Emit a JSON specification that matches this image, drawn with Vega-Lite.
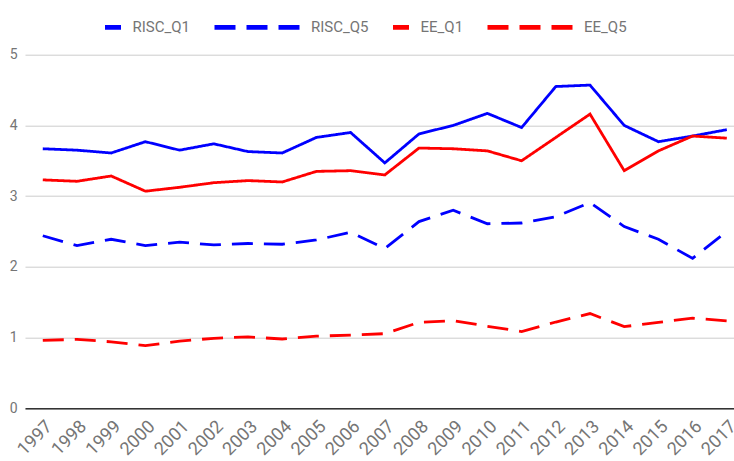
{
  "$schema": "https://vega.github.io/schema/vega-lite/v6.json",
  "autosize": {"type": "none"},
  "width": 709,
  "height": 353.6,
  "padding": {"left": 25, "top": 54.7, "right": 0, "bottom": 52.7},
  "config": {
    "font": "Roboto",
    "view": {"stroke": null},
    "axis": {"labelFont": "Roboto", "labelColor": "#757575"}
  },
  "data": {
    "values": [
      {"year": 1997, "series": "RISC_Q1", "value": 3.67},
      {"year": 1998, "series": "RISC_Q1", "value": 3.65},
      {"year": 1999, "series": "RISC_Q1", "value": 3.61},
      {"year": 2000, "series": "RISC_Q1", "value": 3.77},
      {"year": 2001, "series": "RISC_Q1", "value": 3.65},
      {"year": 2002, "series": "RISC_Q1", "value": 3.74},
      {"year": 2003, "series": "RISC_Q1", "value": 3.63},
      {"year": 2004, "series": "RISC_Q1", "value": 3.61},
      {"year": 2005, "series": "RISC_Q1", "value": 3.83},
      {"year": 2006, "series": "RISC_Q1", "value": 3.9},
      {"year": 2007, "series": "RISC_Q1", "value": 3.47},
      {"year": 2008, "series": "RISC_Q1", "value": 3.88},
      {"year": 2009, "series": "RISC_Q1", "value": 4.0},
      {"year": 2010, "series": "RISC_Q1", "value": 4.17},
      {"year": 2011, "series": "RISC_Q1", "value": 3.97},
      {"year": 2012, "series": "RISC_Q1", "value": 4.55},
      {"year": 2013, "series": "RISC_Q1", "value": 4.57},
      {"year": 2014, "series": "RISC_Q1", "value": 4.0},
      {"year": 2015, "series": "RISC_Q1", "value": 3.77},
      {"year": 2016, "series": "RISC_Q1", "value": 3.85},
      {"year": 2017, "series": "RISC_Q1", "value": 3.94},
      {"year": 1997, "series": "RISC_Q5", "value": 2.44},
      {"year": 1998, "series": "RISC_Q5", "value": 2.3},
      {"year": 1999, "series": "RISC_Q5", "value": 2.39},
      {"year": 2000, "series": "RISC_Q5", "value": 2.3},
      {"year": 2001, "series": "RISC_Q5", "value": 2.35},
      {"year": 2002, "series": "RISC_Q5", "value": 2.31},
      {"year": 2003, "series": "RISC_Q5", "value": 2.33},
      {"year": 2004, "series": "RISC_Q5", "value": 2.32},
      {"year": 2005, "series": "RISC_Q5", "value": 2.38},
      {"year": 2006, "series": "RISC_Q5", "value": 2.49},
      {"year": 2007, "series": "RISC_Q5", "value": 2.26},
      {"year": 2008, "series": "RISC_Q5", "value": 2.64},
      {"year": 2009, "series": "RISC_Q5", "value": 2.8},
      {"year": 2010, "series": "RISC_Q5", "value": 2.61},
      {"year": 2011, "series": "RISC_Q5", "value": 2.62},
      {"year": 2012, "series": "RISC_Q5", "value": 2.71},
      {"year": 2013, "series": "RISC_Q5", "value": 2.91},
      {"year": 2014, "series": "RISC_Q5", "value": 2.57},
      {"year": 2015, "series": "RISC_Q5", "value": 2.39},
      {"year": 2016, "series": "RISC_Q5", "value": 2.12},
      {"year": 2017, "series": "RISC_Q5", "value": 2.5},
      {"year": 1997, "series": "EE_Q1", "value": 3.23},
      {"year": 1998, "series": "EE_Q1", "value": 3.21},
      {"year": 1999, "series": "EE_Q1", "value": 3.285},
      {"year": 2000, "series": "EE_Q1", "value": 3.07},
      {"year": 2001, "series": "EE_Q1", "value": 3.125},
      {"year": 2002, "series": "EE_Q1", "value": 3.19},
      {"year": 2003, "series": "EE_Q1", "value": 3.22},
      {"year": 2004, "series": "EE_Q1", "value": 3.2},
      {"year": 2005, "series": "EE_Q1", "value": 3.35},
      {"year": 2006, "series": "EE_Q1", "value": 3.36},
      {"year": 2007, "series": "EE_Q1", "value": 3.3},
      {"year": 2008, "series": "EE_Q1", "value": 3.68},
      {"year": 2009, "series": "EE_Q1", "value": 3.67},
      {"year": 2010, "series": "EE_Q1", "value": 3.64},
      {"year": 2011, "series": "EE_Q1", "value": 3.5},
      {"year": 2012, "series": "EE_Q1", "value": 3.83},
      {"year": 2013, "series": "EE_Q1", "value": 4.16},
      {"year": 2014, "series": "EE_Q1", "value": 3.36},
      {"year": 2015, "series": "EE_Q1", "value": 3.64},
      {"year": 2016, "series": "EE_Q1", "value": 3.85},
      {"year": 2017, "series": "EE_Q1", "value": 3.82},
      {"year": 1997, "series": "EE_Q5", "value": 0.96},
      {"year": 1998, "series": "EE_Q5", "value": 0.975},
      {"year": 1999, "series": "EE_Q5", "value": 0.94},
      {"year": 2000, "series": "EE_Q5", "value": 0.885},
      {"year": 2001, "series": "EE_Q5", "value": 0.95},
      {"year": 2002, "series": "EE_Q5", "value": 0.99},
      {"year": 2003, "series": "EE_Q5", "value": 1.01},
      {"year": 2004, "series": "EE_Q5", "value": 0.98},
      {"year": 2005, "series": "EE_Q5", "value": 1.02},
      {"year": 2006, "series": "EE_Q5", "value": 1.035},
      {"year": 2007, "series": "EE_Q5", "value": 1.055},
      {"year": 2008, "series": "EE_Q5", "value": 1.215},
      {"year": 2009, "series": "EE_Q5", "value": 1.24},
      {"year": 2010, "series": "EE_Q5", "value": 1.16},
      {"year": 2011, "series": "EE_Q5", "value": 1.085},
      {"year": 2012, "series": "EE_Q5", "value": 1.22},
      {"year": 2013, "series": "EE_Q5", "value": 1.34},
      {"year": 2014, "series": "EE_Q5", "value": 1.155},
      {"year": 2015, "series": "EE_Q5", "value": 1.215},
      {"year": 2016, "series": "EE_Q5", "value": 1.275},
      {"year": 2017, "series": "EE_Q5", "value": 1.235}
    ]
  },
  "mark": {"type": "line", "strokeWidth": 2.8, "strokeCap": "butt"},
  "encoding": {
    "x": {
      "field": "year",
      "type": "quantitative",
      "scale": {"domain": [1996.48, 2017.21], "nice": false, "zero": false},
      "axis": {
        "title": null,
        "values": [1997, 1998, 1999, 2000, 2001, 2002, 2003, 2004, 2005, 2006, 2007, 2008, 2009, 2010, 2011, 2012, 2013, 2014, 2015, 2016, 2017],
        "format": "d",
        "labelAngle": -45,
        "labelAlign": "right",
        "labelBaseline": "top",
        "labelFontSize": 18,
        "labelPadding": 9,
        "labelOverlap": false,
        "labelFlush": false,
        "labelBound": false,
        "ticks": false,
        "grid": false,
        "domain": true,
        "domainColor": "#333333",
        "domainWidth": 1.5
      }
    },
    "y": {
      "field": "value",
      "type": "quantitative",
      "scale": {"domain": [0, 5], "nice": false},
      "axis": {
        "title": null,
        "values": [0, 1, 2, 3, 4, 5],
        "format": "d",
        "labelFontSize": 14,
        "labelPadding": 8,
        "ticks": false,
        "domain": false,
        "grid": true,
        "gridColor": "#cccccc",
        "gridWidth": 1
      }
    },
    "color": {
      "field": "series",
      "type": "nominal",
      "scale": {
        "domain": ["RISC_Q1", "RISC_Q5", "EE_Q1", "EE_Q5"],
        "range": ["#0000ff", "#0000ff", "#ff0000", "#ff0000"]
      },
      "legend": {
        "title": null,
        "orient": "none",
        "direction": "horizontal",
        "legendX": 80,
        "legendY": -38,
        "padding": 0,
        "symbolType": "stroke",
        "symbolStrokeWidth": 4.6,
        "symbolSize": 256,
        "labelFontSize": 15,
        "labelColor": "#757575",
        "labelFont": "Roboto",
        "labelOffset": 11.5,
        "columnPadding": 13.5,
        "encode": {
          "symbols": {
            "update": {
              "size": {"signal": "indexof(['RISC_Q5','EE_Q5'], datum.value) >= 0 ? 7225 : 256"},
              "x": {"signal": "indexof(['RISC_Q5','EE_Q5'], datum.value) >= 0 ? 42.5 : 8"},
              "strokeDash": {"signal": "indexof(['RISC_Q5','EE_Q5'], datum.value) >= 0 ? [34, 17] : [1, 0]"}
            }
          },
          "labels": {
            "update": {
              "x": {"signal": "indexof(['RISC_Q5','EE_Q5'], datum.value) >= 0 ? 96.5 : 27.5"}
            }
          }
        }
      }
    },
    "strokeDash": {
      "field": "series",
      "type": "nominal",
      "scale": {
        "domain": ["RISC_Q1", "RISC_Q5", "EE_Q1", "EE_Q5"],
        "range": [[1, 0], [21, 11], [1, 0], [21, 11]]
      }
    }
  }
}
